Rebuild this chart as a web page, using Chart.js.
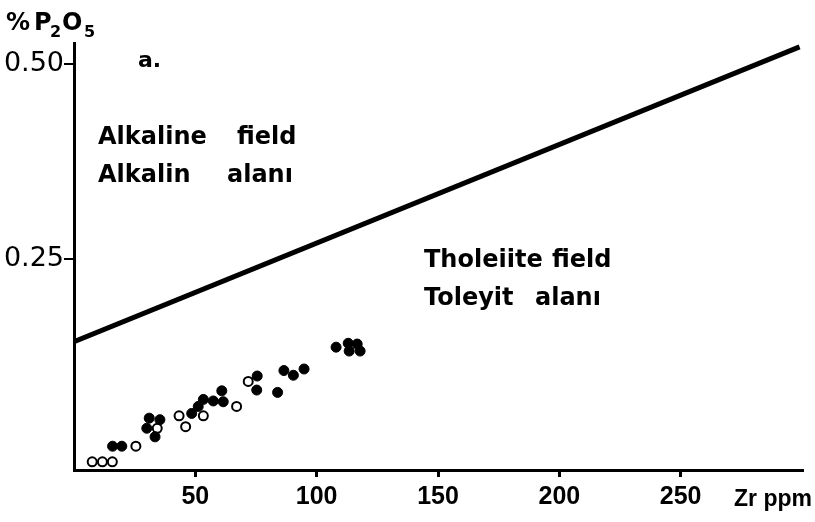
<!DOCTYPE html>
<html>
<head>
<meta charset="utf-8">
<script src="https://cdn.jsdelivr.net/npm/chart.js@4/dist/chart.umd.min.js"></script>
<style>
  html, body { margin: 0; padding: 0; background: #fff; }
  canvas { display: block; }
</style>
</head>
<body>
<canvas id="chart" width="815" height="522"></canvas>
<script>
// Zr (ppm) vs P2O5 (%) discrimination diagram

// filled circles
const filledZr = [15.9, 19.7, 31.0, 35.4, 30.0, 33.4, 48.5, 51.2, 53.3, 57.4, 60.9, 61.5, 75.5, 75.3, 83.9, 86.5, 90.4, 94.8, 108.0, 113.0, 116.7, 117.9, 113.4];
const filledP2O5 = [0.010, 0.010, 0.046, 0.044, 0.033, 0.022, 0.052, 0.061, 0.070, 0.068, 0.081, 0.067, 0.100, 0.082, 0.079, 0.107, 0.101, 0.109, 0.137, 0.142, 0.141, 0.132, 0.132];

// open circles
const openZr = [7.5, 11.7, 15.8, 25.5, 34.3, 43.3, 46.0, 53.3, 67.0, 71.8];
const openP2O5 = [-0.010, -0.010, -0.010, 0.010, 0.033, 0.049, 0.035, 0.049, 0.061, 0.093];

// boundary line between the fields
const boundaryZr = [0, 299];
const boundaryP2O5 = [0.144, 0.522];

const xTicks = [50, 100, 150, 200, 250];
const yTicks = [0.25, 0.50];

const toPoints = (xs, ys) => xs.map((x, i) => ({ x: x, y: ys[i] }));

// extra lettering on the figure
const textPlugin = {
    id: 'figureText',
    afterDraw(chart) {
        const ctx = chart.ctx;
        ctx.save();
        ctx.fillStyle = '#000';
        ctx.textBaseline = 'alphabetic';
        ctx.textAlign = 'left';

        // axis title "% P2O5"
        ctx.font = 'bold 24px "DejaVu Sans"';
        ctx.fillText('%', 6, 30);
        ctx.fillText('P', 34, 30);
        ctx.fillText('O', 62, 30);
        ctx.font = 'bold 16px "DejaVu Sans"';
        ctx.fillText('2', 50, 37);
        ctx.fillText('5', 84, 37);

        // panel letter
        ctx.font = 'bold 22px "DejaVu Sans"';
        ctx.fillText('a.', 138, 67);

        ctx.font = 'bold 24px "DejaVu Sans"';
        ctx.fillText('Alkaline', 98, 144);
        ctx.fillText('field', 237, 144);
        ctx.fillText('Alkalin', 98, 182);
        ctx.fillText('alanı', 227, 182);

        ctx.fillText('Tholeiite', 424, 267);
        ctx.fillText('field', 552, 267);
        ctx.fillText('Toleyit', 424, 305);
        ctx.fillText('alanı', 535, 305);

        ctx.font = 'bold 23px "Liberation Sans"';
        ctx.fillText('Zr ppm', 734, 506);
        ctx.restore();
    }
};

const ctx = document.getElementById('chart').getContext('2d');
const chart = new Chart(ctx, {
    type: 'scatter',
    data: {
        datasets: [
            {
                type: 'line',
                data: toPoints(boundaryZr, boundaryP2O5),
                borderColor: '#000',
                borderWidth: 5,
                pointRadius: 0,
                fill: false
            },
            {
                data: toPoints(filledZr, filledP2O5),
                backgroundColor: '#000',
                borderColor: '#000',
                borderWidth: 1,
                pointRadius: 5
            },
            {
                data: toPoints(openZr, openP2O5),
                backgroundColor: '#fff',
                borderColor: '#000',
                borderWidth: 2,
                pointRadius: 4.5
            }
        ]
    },
    options: {
        responsive: false,
        animation: false,
        devicePixelRatio: 1,
        layout: { padding: { left: 0, top: 43, right: 13, bottom: 0 } },
        plugins: {
            legend: { display: false },
            tooltip: { enabled: false }
        },
        scales: {
            x: {
                type: 'linear',
                min: 0,
                max: 300,
                afterBuildTicks: scale => { scale.ticks = xTicks.map(v => ({ value: v })); },
                afterFit: scale => { scale.height = 52; },
                border: { color: '#000', width: 3 },
                grid: { drawOnChartArea: false, drawTicks: true, tickLength: 7, color: '#000', lineWidth: 3 },
                ticks: {
                    color: '#000',
                    padding: 5,
                    maxRotation: 0,
                    font: { family: 'Liberation Sans', size: 25, weight: 'bold' }
                }
            },
            y: {
                type: 'linear',
                min: -0.0205,
                max: 0.527,
                afterBuildTicks: scale => { scale.ticks = yTicks.map(v => ({ value: v })); },
                afterFit: scale => { scale.width = 74; },
                border: { color: '#000', width: 3 },
                grid: { drawOnChartArea: false, drawTicks: true, tickLength: 10, color: '#000', lineWidth: 2 },
                ticks: {
                    color: '#000',
                    padding: 0,
                    font: { family: 'DejaVu Sans', size: 27 },
                    callback: v => v.toFixed(2)
                }
            }
        }
    },
    plugins: [textPlugin]
});
</script>
</body>
</html>
